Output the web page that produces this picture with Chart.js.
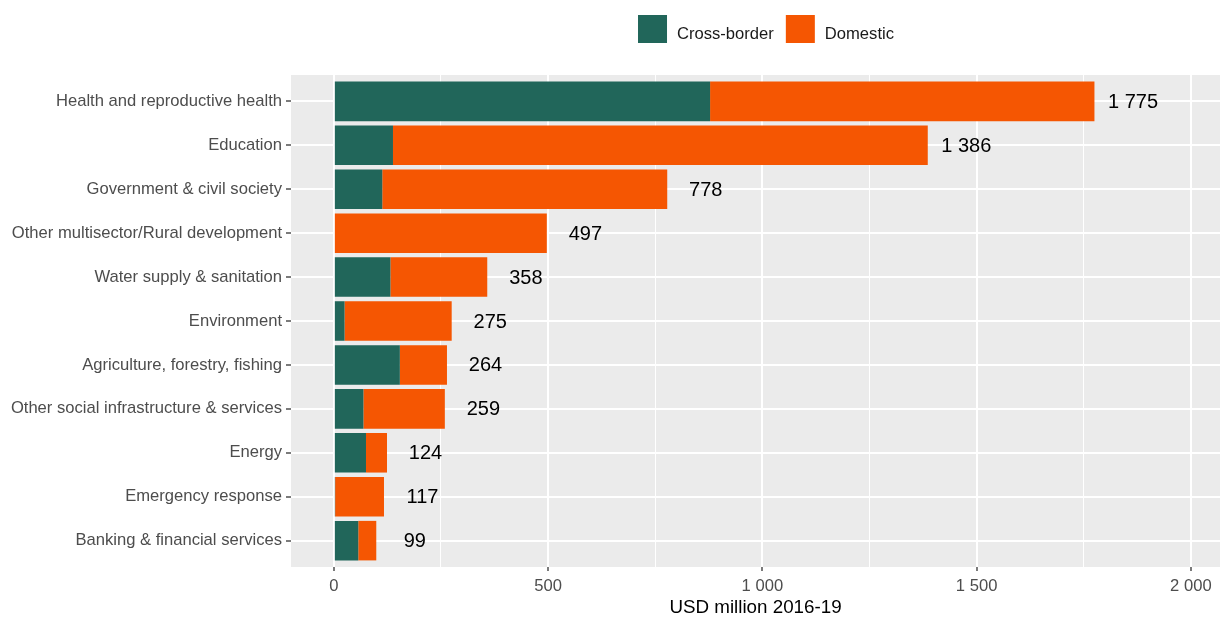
<!DOCTYPE html>
<html>
<head>
<meta charset="utf-8">
<script src="https://cdn.jsdelivr.net/npm/chart.js@4.4.1/dist/chart.umd.min.js"></script>
<style>
  html, body { margin: 0; padding: 0; background: #ffffff; }
  #wrap { width: 1220px; height: 617px; }
</style>
</head>
<body>
<div id="wrap"><canvas id="c" width="1220" height="617"></canvas></div>
<script>
// ---- Data ----
const categories = [
  "Health and reproductive health",
  "Education",
  "Government & civil society",
  "Other multisector/Rural development",
  "Water supply & sanitation",
  "Environment",
  "Agriculture, forestry, fishing",
  "Other social infrastructure & services",
  "Energy",
  "Emergency response",
  "Banking & financial services"
];
const crossBorder = [878, 138, 113, 0, 132, 25, 154, 69, 75, 3, 57];
const domestic    = [897, 1248, 665, 497, 226, 250, 110, 190, 49, 114, 42];
const totals      = [1775, 1386, 778, 497, 358, 275, 264, 259, 124, 117, 99];
const xTicks      = [0, 250, 500, 750, 1000, 1250, 1500, 1750, 2000];
const seriesNames = ["Cross-border", "Domestic"];
const seriesColors = ["#21665A", "#F55602"];
const xTitle = "USD million 2016-19";

// ---- helpers ----
const FONT = "'Liberation Sans', Arial, sans-serif";
function fmt(v) { return String(v).replace(/\B(?=(\d{3})+(?!\d))/g, " "); }
function toPoints(arr) { return arr.map((v, i) => ({ x: v, y: i })); }

const panelBg = {
  id: 'panelBg',
  beforeDraw(chart) {
    const { ctx, chartArea: a } = chart;
    ctx.save();
    ctx.fillStyle = '#ffffff';
    ctx.fillRect(0, 0, chart.width, chart.height);
    ctx.fillStyle = '#EBEBEB';
    ctx.fillRect(a.left, a.top, a.right - a.left, a.bottom - a.top);
    ctx.restore();
  }
};

const valueLabels = {
  id: 'valueLabels',
  afterDatasetsDraw(chart) {
    const { ctx } = chart;
    const xs = chart.scales.x, ys = chart.scales.y;
    ctx.save();
    ctx.fillStyle = '#000000';
    ctx.font = "20px " + FONT;
    ctx.textAlign = 'center';
    ctx.textBaseline = 'middle';
    totals.forEach((t, i) => {
      ctx.fillText(fmt(t), xs.getPixelForValue(t + 90), ys.getPixelForValue(i) + 1);
    });
    ctx.restore();
  }
};

const customLegend = {
  id: 'customLegend',
  afterDraw(chart) {
    const { ctx } = chart;
    ctx.save();
    ctx.font = "16.6px " + FONT;
    const box = 29, gapText = 10, gapItem = 12;
    const widths = seriesNames.map(n => ctx.measureText(n).width);
    let total = 0;
    widths.forEach((w, i) => { total += box + gapText + w + (i < widths.length - 1 ? gapItem : 0); });
    let x = 766 - total / 2;
    const top = 15;
    seriesNames.forEach((n, i) => {
      ctx.fillStyle = seriesColors[i];
      ctx.fillRect(x, top, box, 28);
      ctx.fillStyle = '#1a1a1a';
      ctx.textAlign = 'left';
      ctx.textBaseline = 'alphabetic';
      ctx.fillText(n, x + box + gapText, top + 23.5);
      x += box + gapText + widths[i] + gapItem;
    });
    ctx.restore();
  }
};

new Chart(document.getElementById('c'), {
  type: 'bar',
  data: {
    datasets: [
      { label: seriesNames[0], data: toPoints(crossBorder), backgroundColor: seriesColors[0], borderWidth: 0 },
      { label: seriesNames[1], data: toPoints(domestic), backgroundColor: seriesColors[1], borderWidth: 0 }
    ]
  },
  options: {
    indexAxis: 'y',
    responsive: false,
    animation: false,
    devicePixelRatio: 1,
    barPercentage: 0.9,
    categoryPercentage: 1.0,
    layout: { padding: { top: 75, left: 0, right: 0, bottom: 0 } },
    plugins: {
      legend: { display: false },
      tooltip: { enabled: false }
    },
    scales: {
      x: {
        type: 'linear',
        stacked: true,
        min: -100,
        max: 2068,
        offset: false,
        afterBuildTicks(axis) { axis.ticks = xTicks.map(v => ({ value: v })); },
        afterFit(axis) { axis.height = 50; },
        border: { display: false },
        grid: {
          offset: false,
          color: '#FFFFFF',
          lineWidth: (c) => (c.tick && c.tick.value % 500 === 0) ? 2 : 1,
          tickLength: 4,
          tickColor: (c) => (c.tick && c.tick.value % 500 === 0) ? '#333333' : 'rgba(0,0,0,0)',
          tickWidth: 1.3
        },
        ticks: {
          autoSkip: false,
          maxRotation: 0,
          padding: 5,
          color: '#4D4D4D',
          font: { family: FONT, size: 16.6 },
          callback: (v) => (v % 500 === 0 ? fmt(v) : '')
        },
        title: {
          display: true,
          text: xTitle,
          color: '#000000',
          font: { family: FONT, size: 18.8, lineHeight: 1.0 },
          padding: { top: 0, bottom: 0 }
        }
      },
      y: {
        type: 'linear',
        stacked: true,
        reverse: true,
        offset: false,
        min: -0.6,
        max: categories.length - 0.4,
        afterBuildTicks(axis) { axis.ticks = categories.map((_, i) => ({ value: i })); },
        afterFit(axis) { axis.width = 291; },
        border: { display: false },
        grid: {
          offset: false,
          color: '#FFFFFF',
          lineWidth: 2,
          tickLength: 5,
          tickColor: '#333333',
          tickWidth: 1.3
        },
        ticks: {
          autoSkip: false,
          padding: 4,
          color: '#4D4D4D',
          font: { family: FONT, size: 16.6 },
          callback: (v) => categories[v] !== undefined ? categories[v] : ''
        }
      }
    }
  },
  plugins: [panelBg, valueLabels, customLegend]
});
</script>
</body>
</html>
